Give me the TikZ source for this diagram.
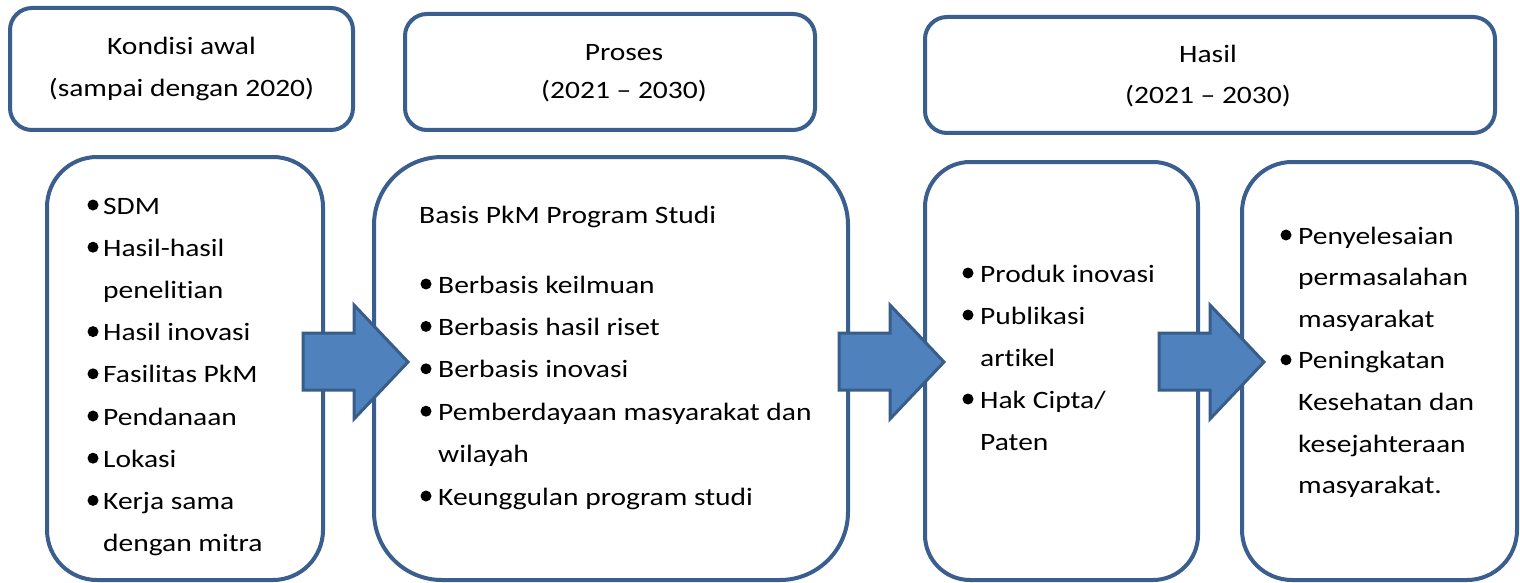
\documentclass[tikz,border=0pt]{standalone}
\usepackage{fontspec}
\setmainfont{Carlito}[FakeStretch=1.18,Ligatures=NoCommon]
\definecolor{boxline}{HTML}{3A5F8E}
\definecolor{arrfill}{HTML}{4F81BD}
\definecolor{arrline}{HTML}{385D8A}
\begin{document}
\begin{tikzpicture}[x=1pt,y=-1pt,
  box/.style={draw=boxline,line width=4pt,fill=white},
  blockarrow/.style={fill=arrfill,draw=arrline,line width=3pt,line join=miter},
  txt/.style={anchor=base west,inner sep=0pt,font=\fontsize{25}{30}\selectfont},
  ctxt/.style={anchor=base,inner sep=0pt,font=\fontsize{25}{30}\selectfont},
  dot/.style={circle,fill=black,inner sep=0pt,minimum size=11pt}]
\useasboundingbox (0,0) rectangle (1520,583);
% header boxes
\path[box,rounded corners=22pt] (10,8) rectangle (353,130);
\path[box,rounded corners=22pt] (405,14) rectangle (815,130);
\path[box,rounded corners=22pt] (925,17) rectangle (1495,133);
\node[ctxt] (h1a) at (181.5,55) {Kondisi awal};
\node[ctxt] (h1b) at (181.5,97) {(sampai dengan 2020)};
\node[ctxt] (h2a) at (624,61) {Proses};
\node[ctxt] (h2b) at (624,99) {(2021 – 2030)};
\node[ctxt] (h3a) at (1208,63) {Hasil};
\node[ctxt] (h3b) at (1208,104) {(2021 – 2030)};
% content boxes
\path[box,rounded corners=50pt] (47,157) rectangle (323,580);
\path[box,rounded corners=68pt] (374,157) rectangle (848,580);
\path[box,rounded corners=45pt] (925,162) rectangle (1198,580);
\path[box,rounded corners=50pt] (1242,162) rectangle (1517,580);
% box A
\begin{scope}
\clip (47,157) rectangle (323,556);
\foreach \t/\y/\b [count=\i] in {SDM/214/1,Hasil-hasil/256.2/1,penelitian/298.4/0,Hasil inovasi/340.6/1,Fasilitas PkM/382.8/1,Pendanaan/425/1,Lokasi/467.2/1,Kerja sama/509.4/1,dengan mitra/551.6/0}{
  \node[txt] (a\i) at (103,\y) {\t};
  \ifnum\b=1 \node[dot] (ad\i) at (93,\y-9) {};\fi
}
\end{scope}
% box B
\node[txt] (b0) at (419,223) {Basis PkM Program Studi};
\foreach \t/\y/\b [count=\i] in {Berbasis keilmuan/293/1,Berbasis hasil riset/335.4/1,Berbasis inovasi/377.8/1,Pemberdayaan masyarakat dan/420.2/1,wilayah/462.6/0,Keunggulan program studi/505/1}{
  \node[txt] (b\i) at (438,\y) {\t};
  \ifnum\b=1 \node[dot] (bd\i) at (426,\y-9) {};\fi
}
% box C
\foreach \t/\y/\b [count=\i] in {Produk inovasi/282/1,Publikasi/324/1,artikel/366/0,{Hak Cipta/}/408/1,Paten/450/0}{
  \node[txt] (c\i) at (980,\y) {\t};
  \ifnum\b=1 \node[dot] (cd\i) at (968,\y-9) {};\fi
}
% box D
\foreach \t/\y/\b [count=\i] in {Penyelesaian/244/1,permasalahan/285.6/0,masyarakat/327.2/0,Peningkatan/368.8/1,Kesehatan dan/410.4/0,kesejahteraan/452/0,masyarakat./493.6/0}{
  \node[txt] (d\i) at (1298,\y) {\t};
  \ifnum\b=1 \node[dot] (dd\i) at (1286,\y-9) {};\fi
}
% block arrows
\foreach \x [count=\i] in {303,839,1159}{
  \path[blockarrow] (\x,333) -- (\x+51,333) -- (\x+51,305) -- (\x+105,362) -- (\x+51,419) -- (\x+51,390) -- (\x,390) -- cycle;
}
\end{tikzpicture}
\end{document}
